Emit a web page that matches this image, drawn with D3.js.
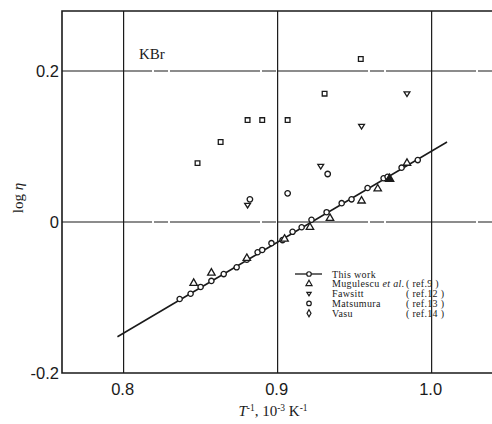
<!DOCTYPE html>
<html lang="en">
<head>
<meta charset="UTF-8"/>
<title>KBr log viscosity vs 1/T</title>
<script src="https://d3js.org/d3.v7.min.js"></script>
<style>
    body { margin: 0; background: #fff; }
</style>
</head>
<body>
<div id="chart"></div>
<script>
    // This work (open circles joined by the fitted line)
    var thisWorkX = [0.8364, 0.8435, 0.850, 0.857, 0.865, 0.8734, 0.880, 0.887, 0.890, 0.896, 0.9032,
                     0.9097, 0.9156, 0.922, 0.9318, 0.9416, 0.948, 0.9584, 0.9688, 0.9714, 0.9805, 0.991];
    var thisWorkY = [-0.102, -0.095, -0.086, -0.078, -0.069, -0.060, -0.050, -0.040, -0.037, -0.028, -0.024,
                     -0.013, -0.007, 0.003, 0.013, 0.025, 0.030, 0.045, 0.058, 0.060, 0.072, 0.082];
    // fitted line end points
    var fitX = [0.796, 1.010];
    var fitY = [-0.152, 0.106];

    // Mugulescu et al. (ref.9) - up triangles
    var mugX = [0.8455, 0.857, 0.880, 0.9045, 0.921, 0.934, 0.9545, 0.965, 0.984];
    var mugY = [-0.081, -0.0675, -0.048, -0.0225, -0.007, 0.005, 0.028, 0.044, 0.078];
    var mugFilledX = [0.9727];
    var mugFilledY = [0.057];

    // Fawsitt (ref.12) - down triangles
    var fawX = [0.8805, 0.928, 0.9545, 0.984];
    var fawY = [0.0225, 0.074, 0.127, 0.170];

    // Matsumura (ref.13) - circles
    var matX = [0.882, 0.9065, 0.9325];
    var matY = [0.030, 0.038, 0.0636];

    // Vasu (ref.14) - squares
    var vasX = [0.848, 0.863, 0.8805, 0.890, 0.9065, 0.9305, 0.954];
    var vasY = [0.078, 0.106, 0.135, 0.135, 0.135, 0.170, 0.216];

    var xTicks = [0.8, 0.9, 1.0];
    var yTicks = [-0.2, 0, 0.2];
    var xTickLabels = ["0.8", "0.9", "1.0"];
    var yTickLabels = ["-0.2", "0", "0.2"];

    var width = 492, height = 424;
    var ink = "#1a1a1a";

    var svg = d3.select("#chart").append("svg")
        .attr("width", width)
        .attr("height", height);

    var x = d3.scaleLinear().domain([0.76, 1.0392]).range([62, 492]);
    var y = d3.scaleLinear().domain([-0.2, 0.2795]).range([373, 11]);

    // grid lines
    svg.selectAll("line.vgrid")
        .data(xTicks)
        .enter().append("line")
        .attr("class", "vgrid")
        .attr("x1", function(d) { return x(d); })
        .attr("x2", function(d) { return x(d); })
        .attr("y1", y.range()[1])
        .attr("y2", y.range()[0])
        .attr("stroke", ink)
        .attr("stroke-width", 1.2);

    svg.selectAll("line.hgrid")
        .data(yTicks.slice(1))
        .enter().append("line")
        .attr("class", "hgrid")
        .attr("x1", x.range()[0])
        .attr("x2", x.range()[1])
        .attr("y1", function(d) { return y(d); })
        .attr("y2", function(d) { return y(d); })
        .attr("stroke", ink)
        .attr("stroke-width", 1.1)
        .attr("stroke-dasharray", "90,2,14,2");

    // frame: top, left, bottom
    svg.append("path")
        .attr("d", "M" + x.range()[1] + "," + y.range()[1] + "H" + x.range()[0] +
                   "V" + y.range()[0] + "H" + x.range()[1])
        .attr("fill", "none")
        .attr("stroke", ink)
        .attr("stroke-width", 1.6);

    // tick labels
    svg.selectAll("text.xtick")
        .data(xTicks)
        .enter().append("text")
        .attr("class", "xtick")
        .attr("x", function(d) { return x(d) - 1; })
        .attr("y", 395)
        .attr("text-anchor", "middle")
        .attr("font-family", "Liberation Sans, sans-serif")
        .attr("font-size", "16.5px")
        .attr("fill", ink)
        .text(function(d, i) { return xTickLabels[i]; });

    svg.selectAll("text.ytick")
        .data(yTicks)
        .enter().append("text")
        .attr("class", "ytick")
        .attr("x", 59)
        .attr("y", function(d) { return y(d) + 6; })
        .attr("text-anchor", "end")
        .attr("font-family", "Liberation Sans, sans-serif")
        .attr("font-size", "16.5px")
        .attr("fill", ink)
        .text(function(d, i) { return yTickLabels[i]; });

    // axis titles
    var xt = svg.append("text")
        .attr("x", 273)
        .attr("y", 416)
        .attr("text-anchor", "middle")
        .attr("font-family", "Liberation Serif, serif")
        .attr("font-size", "15px")
        .attr("fill", ink);
    xt.append("tspan").attr("font-style", "italic").text("T");
    xt.append("tspan").attr("font-size", "9.5px").attr("dy", -5).text("-1");
    xt.append("tspan").attr("dy", 5).text(", 10");
    xt.append("tspan").attr("font-size", "9.5px").attr("dy", -5).text("-3");
    xt.append("tspan").attr("dy", 5).text(" K");
    xt.append("tspan").attr("font-size", "9.5px").attr("dy", -5).text("-1");

    var yt = svg.append("text")
        .attr("transform", "translate(23,198)rotate(-90)")
        .attr("text-anchor", "middle")
        .attr("font-family", "Liberation Serif, serif")
        .attr("font-size", "15px")
        .attr("fill", ink);
    yt.append("tspan").text("log ");
    yt.append("tspan").attr("font-style", "italic").text("η");

    svg.append("text")
        .attr("x", 139)
        .attr("y", 59)
        .attr("font-family", "Liberation Serif, serif")
        .attr("font-size", "15px")
        .attr("fill", ink)
        .text("KBr");

    // fitted line
    svg.append("line")
        .attr("x1", x(fitX[0])).attr("y1", y(fitY[0]))
        .attr("x2", x(fitX[1])).attr("y2", y(fitY[1]))
        .attr("stroke", ink)
        .attr("stroke-width", 1.5);

    function pts(xs, ys) {
        return xs.map(function(v, i) { return [v, ys[i]]; });
    }

    // downward pointing triangle
    var triDown = {
        draw: function(ctx, size) {
            var s = Math.sqrt(size) * 0.62;
            ctx.moveTo(-s, -s * 0.6);
            ctx.lineTo(s, -s * 0.6);
            ctx.lineTo(0, s * 1.0);
            ctx.closePath();
        }
    };

    function drawSymbols(data, type, size, filled) {
        svg.append("g").selectAll("path")
            .data(data)
            .enter().append("path")
            .attr("transform", function(d) { return "translate(" + x(d[0]) + "," + y(d[1]) + ")"; })
            .attr("d", d3.symbol().type(type).size(size))
            .attr("fill", filled ? ink : "#fff")
            .attr("stroke", ink)
            .attr("stroke-width", 1.3);
    }

    drawSymbols(pts(thisWorkX, thisWorkY), d3.symbolCircle, 22, false);
    drawSymbols(pts(mugX, mugY), d3.symbolTriangle, 24, false);
    drawSymbols(pts(mugFilledX, mugFilledY), d3.symbolTriangle, 30, true);
    drawSymbols(pts(fawX, fawY), triDown, 22, false);
    drawSymbols(pts(matX, matY), d3.symbolCircle, 24, false);
    drawSymbols(pts(vasX, vasY), d3.symbolSquare, 22, false);

    // legend
    var legNames = ["This work", "Mugulescu", "Fawsitt", "Matsumura", "Vasu"];
    var legRefs = ["", "( ref.9 )", "( ref.12 )", "( ref.13 )", "( ref.14 )"];
    var legTypes = [d3.symbolCircle, d3.symbolTriangle, triDown, d3.symbolCircle, d3.symbolDiamond];
    var legSizes = [16, 16, 12, 16, 14];
    var legY0 = 274, legDy = 9.8;

    svg.append("line")
        .attr("x1", 295).attr("x2", 322)
        .attr("y1", legY0).attr("y2", legY0)
        .attr("stroke", ink).attr("stroke-width", 1.3);

    var leg = svg.append("g");
    leg.selectAll("path")
        .data(legNames)
        .enter().append("path")
        .attr("transform", function(d, i) { return "translate(309," + (legY0 + i * legDy) + ")"; })
        .attr("d", function(d, i) { return d3.symbol().type(legTypes[i]).size(legSizes[i])(); })
        .attr("fill", "#fff")
        .attr("stroke", ink)
        .attr("stroke-width", 1.2);

    var names = leg.selectAll("text.name")
        .data(legNames)
        .enter().append("text")
        .attr("class", "name")
        .attr("x", 332)
        .attr("y", function(d, i) { return legY0 + i * legDy + 3.5; })
        .attr("font-family", "Liberation Serif, serif")
        .attr("font-size", "10px")
        .attr("letter-spacing", "0.35px")
        .attr("fill", ink)
        .text(function(d) { return d; });
    names.filter(function(d, i) { return i === 1; })
        .append("tspan").attr("font-style", "italic").text(" et al.");

    leg.selectAll("text.ref")
        .data(legRefs)
        .enter().append("text")
        .attr("class", "ref")
        .attr("x", 406)
        .attr("y", function(d, i) { return legY0 + i * legDy + 3.5; })
        .attr("font-family", "Liberation Serif, serif")
        .attr("font-size", "10px")
        .attr("letter-spacing", "0.3px")
        .attr("fill", ink)
        .text(function(d) { return d; });
</script>
</body>
</html>
